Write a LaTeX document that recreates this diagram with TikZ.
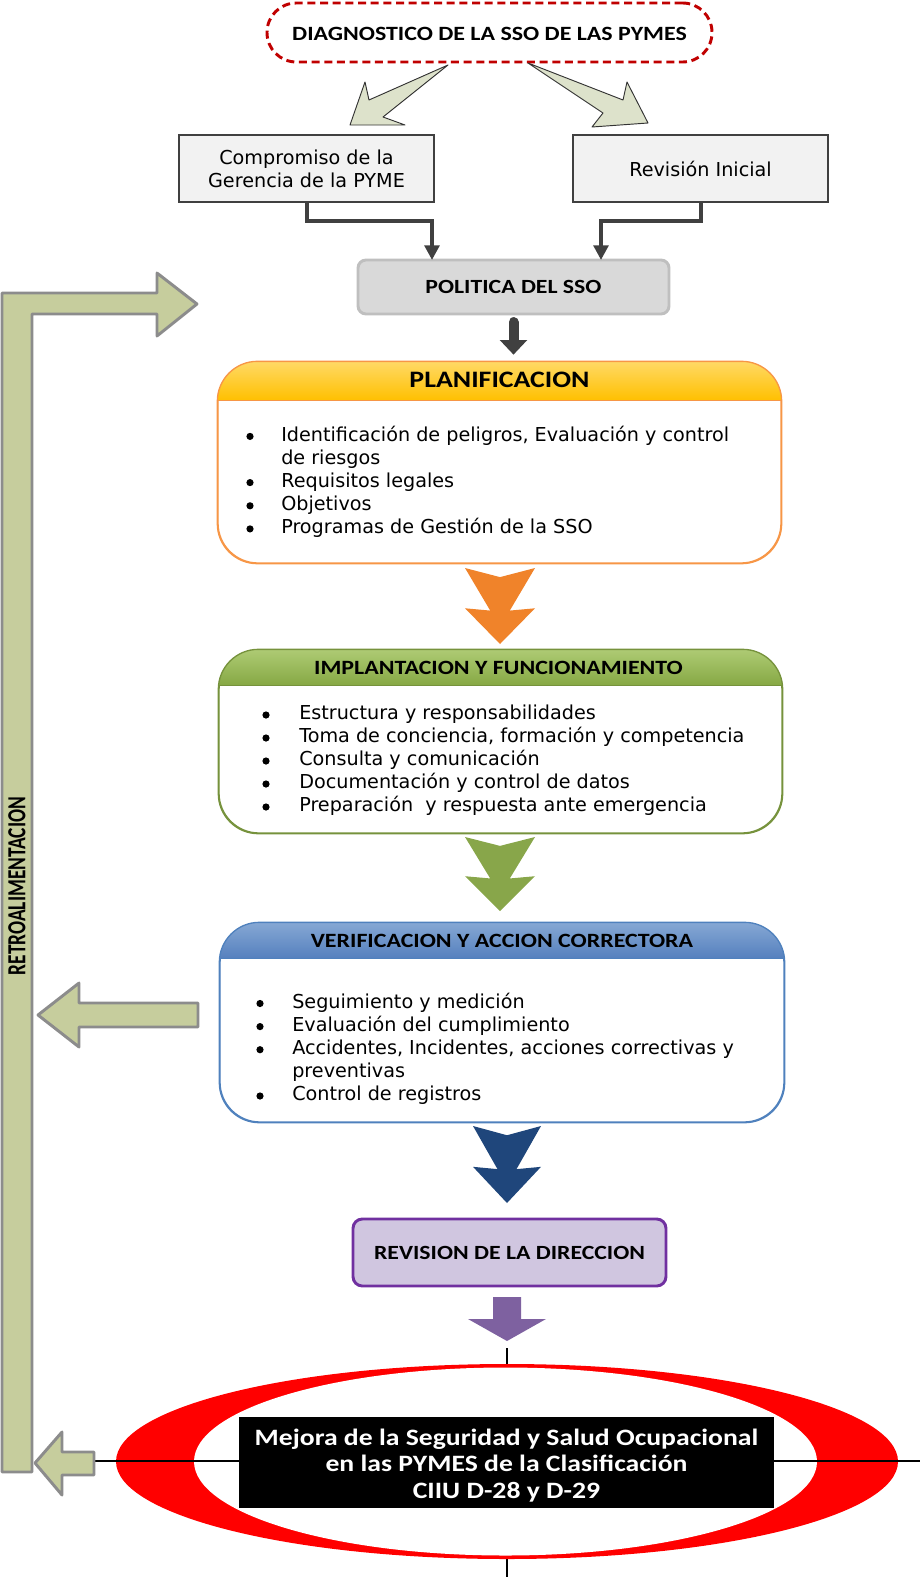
\documentclass[tikz,border=0pt]{standalone}
\usepackage{fontspec}
\setmainfont{DejaVu Sans}
\newfontfamily\calib{Carlito}
\usetikzlibrary{arrows.meta,shadings}

\definecolor{diagred}{HTML}{C00000}
\definecolor{lightarrow}{HTML}{DDE2CB}
\definecolor{boxgray}{HTML}{F2F2F2}
\definecolor{darkline}{HTML}{404040}
\definecolor{polfill}{HTML}{D9D9D9}
\definecolor{polline}{HTML}{BFBFBF}
\definecolor{planline}{HTML}{F79646}
\definecolor{plantop}{HTML}{FFD966}
\definecolor{planbot}{HTML}{FFC000}
\definecolor{orangearr}{HTML}{F0832A}
\definecolor{implline}{HTML}{76923C}
\definecolor{impltop}{HTML}{AECB74}
\definecolor{implbot}{HTML}{86A844}
\definecolor{greenarr}{HTML}{88A64A}
\definecolor{verline}{HTML}{4F81BD}
\definecolor{vertop}{HTML}{86A8D4}
\definecolor{verbot}{HTML}{5580BE}
\definecolor{bluearr}{HTML}{1F467B}
\definecolor{dirfill}{HTML}{D0C6E0}
\definecolor{dirline}{HTML}{7030A0}
\definecolor{purplearr}{HTML}{7E61A0}
\definecolor{fbfill}{HTML}{C6CD9D}
\definecolor{fbline}{HTML}{8C8C8C}

% wide bold headings
\newcommand\wide[1]{\scalebox{1.18}[1]{#1}}

% downward block arrow with notched top: centre x, top y, tip y, half width, colour
\newcommand\downchev[5]{%
  \fill[#5] ({#1-#4},#2) -- ({#1-0.28*#4},{#2+0.56*(#3-#2)}) -- ({#1-#4},{#2+0.53*(#3-#2)})
    -- (#1,#3) -- ({#1+#4},{#2+0.53*(#3-#2)}) -- ({#1+0.28*#4},{#2+0.56*(#3-#2)})
    -- ({#1+#4},#2) -- (#1,{#2+0.12*(#3-#2)}) -- cycle;}

% stage box with shaded header: name, centre, width, height, header height, line, top, bottom colours
\newcommand\stagebox[8]{%
  \node[draw=#6, line width=1pt, fill=white, rounded corners=30pt, inner sep=0pt,
        minimum width=#3*0.75pt, minimum height=#4*0.75pt] (#1) at (#2) {};
  \begin{scope}
    \clip[rounded corners=30pt] (#1.north west) rectangle (#1.south east);
    \shade[top color=#7, bottom color=#8] (#1.north west) rectangle ([yshift=-#5*0.75pt]#1.north east);
  \end{scope}
  \draw[#6, line width=1pt, rounded corners=30pt] (#1.north west) rectangle (#1.south east);
  \draw[#6, line width=1pt] ([yshift=-#5*0.75pt]#1.north west) -- ([yshift=-#5*0.75pt]#1.north east);}

\tikzset{
  title/.style={font=\calib\bfseries\fontsize{15.2}{18}\selectfont, inner sep=0pt},
  item/.style={anchor=west, inner sep=0pt, text height=10pt, text depth=3pt, yshift=-1.5pt,
               font=\fontsize{14.4}{17}\selectfont},
  bul/.style={fill=black, yshift=-1.5pt},
  plainbox/.style={draw=darkline, line width=1.1pt, fill=boxgray, inner sep=0pt,
                   minimum width=255*0.75pt, minimum height=67*0.75pt, align=center,
                   font=\fontsize{14.4}{17.25}\selectfont},
  conn/.style={darkline, line width=3pt, -{Triangle[width=11pt,length=11pt]}},
  lightarr/.style={fill=lightarrow, draw=black!80, line width=0.7pt, line join=round},
  fb/.style={fill=fbfill, draw=fbline, line width=2.2pt, line join=round},
}

\begin{document}
\begin{tikzpicture}[x=0.75pt,y=-0.75pt]
\useasboundingbox (0,0) rectangle (920,1577);

% ---- diagnosis ----
\node[draw=diagred, line width=2.2pt, dash pattern=on 6pt off 3.5pt, rounded corners=22pt,
      minimum width=445*0.75pt, minimum height=59*0.75pt, inner sep=0pt] (diag) at (489.5,32.5) {};
\node[font=\calib\bfseries\fontsize{15.2}{18}\selectfont, inner sep=0pt] (diagt) at (489.5,33.5)
      {\wide{DIAGNOSTICO DE LA SSO DE LAS PYMES}};

\draw[lightarr] (448,65) -- (369,100) -- (365,82) -- (350,125) -- (405,125) -- (383,117) -- cycle;
\draw[lightarr] (528,63) -- (623,100) -- (627,82) -- (648,123) -- (592,127) -- (603,113) -- cycle;

% ---- first boxes ----
\node[plainbox] (comp) at (306.5,168.5) {Compromiso de la\\Gerencia de la PYME};
\node[plainbox] (rev) at (700.5,168.5) {Revisión Inicial};

\node[draw=polline, fill=polfill, line width=2.2pt, rounded corners=6pt, inner sep=0pt,
      minimum width=311*0.75pt, minimum height=54*0.75pt,
      font=\calib\bfseries\fontsize{15.1}{18}\selectfont] (pol) at (513.5,287) {\wide{POLITICA DEL SSO}};

\coordinate (ka) at (0,221);
\coordinate (pa) at (432,260);
\coordinate (pb) at (601,260);
\draw[conn] (comp.south) -- (comp.south |- ka) -| (pa);
\draw[conn] (rev.south) -- (rev.south |- ka) -| (pb);

% ---- planning ----
\stagebox{plan}{499.5,462.5}{563}{201}{39}{planline}{plantop}{planbot}
\node[title, font=\calib\bfseries\fontsize{17.7}{20}\selectfont] (plant) at (499.5,380) {\wide{PLANIFICACION}};

\draw[darkline, line width=7.5pt, line cap=round, shorten >=5pt,
      -{Triangle[width=20pt,length=11pt]}] ([yshift=-5pt]pol.south) -- (pol.south |- plan.north);

\fill[bul] (250,434.4) circle[radius=2.7pt];
\fill[bul] (250,480.6) circle[radius=2.7pt];
\fill[bul] (250,503.8) circle[radius=2.7pt];
\fill[bul] (250,526.9) circle[radius=2.7pt];
\node[item] (pl1) at (281,434.4) {Identificación de peligros, Evaluación y control};
\node[item] (pl2) at (281,457.5) {de riesgos};
\node[item] (pl3) at (281,480.6) {Requisitos legales};
\node[item] (pl4) at (281,503.8) {Objetivos};
\node[item] (pl5) at (281,526.9) {Programas de Gestión de la SSO};

\downchev{500}{568}{644}{35}{orangearr}

% ---- implementation ----
\stagebox{impl}{500.5,741.5}{563}{183}{36}{implline}{impltop}{implbot}
\node[title] (implt) at (498.5,668) {\wide{IMPLANTACION Y FUNCIONAMIENTO}};

\foreach \yy in {713,736,759,782,805} \fill[bul] (266,\yy) circle[radius=2.7pt];
\node[item] (im1) at (299,713) {Estructura y responsabilidades};
\node[item] (im2) at (299,736) {Toma de conciencia, formación y competencia};
\node[item] (im3) at (299,759) {Consulta y comunicación};
\node[item] (im4) at (299,782) {Documentación y control de datos};
\node[item] (im5) at (299,805) {Preparación\ \ y respuesta ante emergencia};

\downchev{500}{837}{911}{35}{greenarr}

% ---- verification ----
\stagebox{verif}{502,1022.5}{564}{199}{36}{verline}{vertop}{verbot}
\node[title] (verift) at (502,941) {\wide{VERIFICACION Y ACCION CORRECTORA}};

\fill[bul] (260,1001.5) circle[radius=2.7pt];
\fill[bul] (260,1024.6) circle[radius=2.7pt];
\fill[bul] (260,1047.7) circle[radius=2.7pt];
\fill[bul] (260,1094) circle[radius=2.7pt];
\node[item] (ve1) at (292,1001.5) {Seguimiento y medición};
\node[item] (ve2) at (292,1024.6) {Evaluación del cumplimiento};
\node[item] (ve3) at (292,1047.7) {Accidentes, Incidentes, acciones correctivas y};
\node[item] (ve4) at (292,1070.9) {preventivas};
\node[item] (ve5) at (292,1094) {Control de registros};

\downchev{507}{1126}{1203}{34}{bluearr}

% ---- management review ----
\node[draw=dirline, fill=dirfill, line width=2.2pt, rounded corners=7pt, inner sep=0pt,
      minimum width=313*0.75pt, minimum height=67*0.75pt,
      font=\calib\bfseries\fontsize{15.1}{18}\selectfont] (dir) at (509.5,1252.5) {\wide{REVISION DE LA DIRECCION}};

\fill[purplearr] (493,1297) -- (521,1297) -- (521,1319) -- (546,1319) -- (507,1341)
  -- (468,1319) -- (493,1319) -- cycle;

% ---- improvement target ----
\draw[black, line width=0.8pt] (507,1348) -- (507,1577);
\fill[red] (507,1461.5) ellipse[x radius=391*0.75pt, y radius=97.5*0.75pt];
\fill[white] (505.5,1461.5) ellipse[x radius=311.5*0.75pt, y radius=94*0.75pt];
\draw[black, line width=0.8pt] (94,1461) -- (920,1461);
\node[fill=black, inner sep=0pt, minimum width=535*0.75pt, minimum height=91*0.75pt] (mejora) at (506.5,1462.5) {};
\node[text=white, inner sep=0pt, font=\calib\bfseries\fontsize{17.6}{19.9}\selectfont] (mejorat) at (506.5,1466.5)
      {\wide{\begin{tabular}{@{}c@{}}Mejora de la Seguridad y Salud Ocupacional\\
        en las PYMES de la Clasificación\\CIIU D-28 y D-29\end{tabular}}};

% ---- feedback loop ----
\draw[fb] (2,1472) -- (2,293) -- (157,293) -- (157,273) -- (197,304) -- (157,336) -- (157,314)
  -- (32,314) -- (32,1472) -- cycle;
\draw[fb] (198,1003) -- (79,1003) -- (79,983) -- (38,1015) -- (79,1047) -- (79,1027) -- (198,1027) -- cycle;
\draw[fb] (94,1452) -- (62,1452) -- (62,1432) -- (35,1463) -- (62,1495) -- (62,1475) -- (94,1475) -- cycle;
\node[rotate=90, inner sep=0pt, font=\calib\bfseries\fontsize{14.5}{16}\selectfont] (retro) at (17,886)
  {\scalebox{1}[1.35]{RETROALIMENTACION}};

\end{tikzpicture}
\end{document}
